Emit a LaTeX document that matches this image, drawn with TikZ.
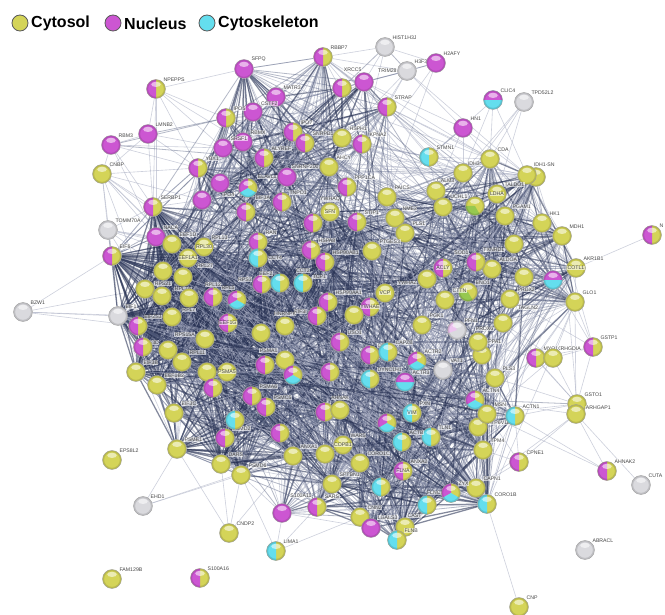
\documentclass[tikz,border=0pt]{standalone}
\usepackage{fontspec}
\setmainfont{Liberation Sans}
\usetikzlibrary{backgrounds}
\definecolor{cyel}{RGB}{212,212,88}
\definecolor{cmag}{RGB}{204,86,210}
\definecolor{ccya}{RGB}{100,222,238}
\definecolor{cgry}{RGB}{218,218,222}
\definecolor{cgrn}{RGB}{150,200,80}
\definecolor{edD}{RGB}{40,50,84}
\definecolor{edM}{RGB}{90,100,132}
\definecolor{edL}{RGB}{165,170,192}
\newcommand\pphl{\fill[white,opacity=.55] ([yshift=4.6pt]path picture bounding box.center) ellipse [x radius=4.8pt,y radius=2.6pt];\draw[black,opacity=.12,line width=1.6pt] (path picture bounding box.center) circle [radius=8.7pt];}
\newcommand\ppsect[3]{\fill[#1] (path picture bounding box.center) -- ++(#2:11pt) arc[start angle=#2,end angle=#3,radius=11pt] -- cycle;}
\tikzset{
 ball/.style={circle,minimum size=19pt,inner sep=0pt,draw=black!40,line width=.35pt},
 tY/.style={ball,fill=cyel,path picture={\pphl}},
 tM/.style={ball,fill=cmag,path picture={\pphl}},
 tC/.style={ball,fill=ccya,path picture={\pphl}},
 tG/.style={ball,fill=cgry,path picture={\pphl}},
 tMY/.style={ball,fill=cyel,path picture={\ppsect{cmag}{90}{270}\pphl}},
 tCY/.style={ball,fill=cyel,path picture={\ppsect{ccya}{90}{270}\pphl}},
 tMC/.style={ball,fill=ccya,path picture={\ppsect{cmag}{0}{180}\pphl}},
 tMCY/.style={ball,fill=cyel,path picture={\ppsect{cmag}{90}{210}\ppsect{ccya}{210}{330}\pphl}},
 tYG/.style={ball,fill=cyel,path picture={\ppsect{cgrn}{180}{300}\pphl}},
 tGM/.style={ball,fill=cgry,path picture={\ppsect{cmag!35}{120}{200}\pphl}},
 lbl/.style={font=\fontsize{5.2}{5.2}\selectfont,text=black!72,fill=white,fill opacity=.6,text opacity=1,inner sep=.5pt},
 lb/.style={label={[lbl]45:#1}},
 lpos/.style 2 args={label={[lbl]#1:#2}},
 eD/.style={draw=edD,line width=1.25pt,opacity=.58},
 eM/.style={draw=edM,line width=.8pt,opacity=.45},
 eL/.style={draw=edL,line width=.6pt,opacity=.55},
 legc/.style={circle,minimum size=16pt,inner sep=0pt,draw=black!65,line width=.8pt},
 legt/.style={anchor=west,inner sep=0pt,font=\fontsize{16}{17}\selectfont\bfseries}
}
\newcommand\ppclique[4]{%
 \foreach \a [count=\i] in #1 {%
  \foreach \b [count=\j] in #1 {%
   \ifnum\j>\i\relax
    \pgfmathtruncatemacro\ppr{mod(mod(\i*\i,97)*17+mod(\j*\j,97)*23+mod(\i*\j,97)*31+\i*13+\j*7,97)}%
    \ifnum\ppr<#2\relax \draw[eD] (\a) -- (\b);%
    \else\ifnum\ppr<#3\relax \draw[eM] (\a) -- (\b);%
    \else\ifnum\ppr<#4\relax \draw[eL] (\a) -- (\b);%
    \fi\fi\fi
   \fi}}}
\newcommand\ppmesh[5]{%
 \foreach \a [count=\i] in #1 {%
  \foreach \b [count=\j] in #2 {%
    \pgfmathtruncatemacro\ppr{mod(mod(\i*\i,97)*19+mod(\j*\j,97)*29+mod(\i*\j,97)*37+\i*11+\j*5+3,97)}%
    \ifnum\ppr<#3\relax \draw[eD] (\a) -- (\b);%
    \else\ifnum\ppr<#4\relax \draw[eM] (\a) -- (\b);%
    \else\ifnum\ppr<#5\relax \draw[eL] (\a) -- (\b);%
    \fi\fi\fi}}}
\def\GN{sfpq,matr3,cstf2,ipo5,rbmx,srsf1,ipo7,snrpd1,alyref,ybx1,elavl1,snrnp200,tnpo1,ipo4,eif3a,hsph1,kpna2,xrcc5,xrcc6,ppp1ca,n202,eif4a,n313,rbbp7,strap}
\def\GT{serbp1,naca,eef1d,rpl13,eef1a1,rps21,n183,n145,n162,eif6,n138,rpl7,rpl12,rpl5,rps3,eef2,eif2s,rps15a,n168,rpl11,n143,n136,eef1b,eef1g,n261,hnrnpk,n207,n227,eif1}
\def\GP{psme1,eif3c,dars,psmd6,psmd2,n235,psmc5,psma6,n213,n265,n293,psma1,n330,n280b,n325c,anxa1,n325b}
\def\GH{ran,cct4,cct,n311,n325,sfn,stip1,ptges3,vcp,ywhae,n354,uso1,n328,eif3i,n427}
\def\GG{cda,idh1,sn,calm3,n436,paics,nme2,pls1,n443,uchl1,ldha,pgam1,hk1,mdh1,txnrd1,aldoa,sod1,acly,eno1,cttn,prdx2,glo1,n422,pfn1,prdx6,ppa1,cotl1,n524,n553}
\def\GC{cse1la,cse1lb,capzb,vat1,pls3,actr3,dync,actn4,msn,atp6,actn1,tpm4,capn1,coro1b,flnc,flnb,lgals3,cast,cnn2,n371,flna,sptbn1,n381,copb1,coro1c,vim,n387,tln1,actb,ahnak,s100a11,n282,n482}
\begin{document}
\begin{tikzpicture}[x=1pt,y=-1pt]
\useasboundingbox (0,0) rectangle (665,615);
% legend
\node[legc,fill=cyel] (lg1) at (20,23) {};
\node[legt] (lg1t) at (31,23.5) {Cytosol};
\node[legc,fill=cmag] (lg2) at (113,23) {};
\node[legt] (lg2t) at (124,23.5) {Nucleus};
\node[legc,fill=ccya] (lg3) at (207,23) {};
\node[legt] (lg3t) at (218,23.5) {Cytoskeleton};
% nuclear
\node[tM,lb=SFPQ] (sfpq) at (244,69) {};
\node[tMY,lb=NPEPPS] (npepps) at (156,89) {};
\node[tM,lb=LMNB2] (lmnb2) at (148,134) {};
\node[tM,lb=RBM3] (rbm3) at (111,145) {};
\node[tY,lb=CNBP] (cnbp) at (102,174) {};
\node[tM,lb=MATR3] (matr3) at (276,97) {};
\node[tM,lpos={40}{CSTF2}] (cstf2) at (253,112) {};
\node[tMY,lb=IPO5] (ipo5) at (226,118) {};
\node[tM,lb=RBMX] (rbmx) at (243,142) {};
\node[tM,lb=SRSF1] (srsf1) at (223,148) {};
\node[tMY,lb=IPO7] (ipo7) at (293,132) {};
\node[tMY,lb=SNRPD1] (snrpd1) at (305,143) {};
\node[tMY,lb=ALYREF] (alyref) at (264,158) {};
\node[tMY,lb=YBX1] (ybx1) at (198,168) {};
\node[tM,lpos={180}{ELAVL1}] (elavl1) at (287,177) {};
\node[tY,lpos={180}{SNRNP200},lb=AHCY] (snrnp200) at (329,167) {};
\node[tMY,lb=TNPO1] (tnpo1) at (282,202) {};
\node[tM,lpos={-80}{IPO4}] (ipo4) at (220,183) {};
\node[tMCY,lpos={-45}{EIF3A}] (eif3a) at (248,188) {};
\node[tMY,lb=RBBP7] (rbbp7) at (323,57) {};
\node[tG,lb=HIST1H3J] (hist) at (385,47) {};
\node[tG,lb=H3F3B,lpos={180}{TRIM28}] (h3f3b) at (407,71) {};
\node[tM,lb=H2AFY] (h2afy) at (436,63) {};
\node[tMY] (xrcc6) at (342,88) {};
\node[tM,lpos={100}{XRCC5}] (xrcc5) at (364,82) {};
\node[tMY,lb=STRAP] (strap) at (387,107) {};
\node[tMC,lb=CLIC4] (clic4) at (493,100) {};
\node[tG,lb=TPD52L2] (tpd) at (524,102) {};
\node[tM,lb=HN1] (hn1) at (463,128) {};
\node[tY,lb=HSPH1] (hsph1) at (342,138) {};
\node[tMY,lb=KPNA2] (kpna2) at (362,144) {};
\node[tCY,lb=STMN1] (stmn1) at (429,157) {};
\node[tMY,lb=PPP1CA] (ppp1ca) at (347,187) {};
\node[tM] (n202) at (202,200) {};
\node[tMY] (eif4a) at (246,212) {};
\node[tMY] (n313) at (313,223) {};
\node[tY,lpos={center}{SFN},lpos={90}{YWHAQ}] (sfn) at (330,212) {};
% glycolysis
\node[tY,lb=CDA,lpos={190}{IDH3}] (cda) at (490,159) {};
\node[tY] (sn) at (536,177) {};
\node[tY,lpos={50}{IDH1-SN}] (idh1) at (527,175) {};
\node[tY,lpos={215}{CALM3}] (calm3) at (463,173) {};
\node[tY] (n436) at (436,191) {};
\node[tY,lb=PAICS] (paics) at (387,197) {};
\node[tY,lb=NME2] (nme2) at (395,218) {};
\node[tY,lb=PLS1] (pls1) at (405,233) {};
\node[tY] (n443) at (443,207) {};
\node[tYG,lpos={135}{UCHL1}] (uchl1) at (475,206) {};
\node[tY,lpos={center}{LDHA},lb=TALDO1] (ldha) at (497,194) {};
\node[tY,lb=PGAM1] (pgam1) at (505,216) {};
\node[tY,lb=HK1] (hk1) at (542,223) {};
\node[tY,lb=MDH1] (mdh1) at (562,236) {};
\node[tY,lpos={200}{TXNRD1}] (txnrd1) at (514,244) {};
\node[tMY,lb=N] (n652) at (652,235) {};
\node[tY,lpos={center}{COTL1},lb=AKR1B1] (cotl1) at (576,268) {};
\node[tY] (n524) at (524,277) {};
\node[tMC] (n553) at (553,280) {};
\node[tY,lb=ALDOA] (aldoa) at (492,269) {};
\node[tMY,lpos={135}{SOD1}] (sod1) at (476,262) {};
\node[tMY,lpos={center}{ACLY}] (acly) at (443,268) {};
\node[tYG,lb=ENO1] (eno1) at (468,292) {};
\node[tY,lb=CTTN] (cttn) at (445,300) {};
\node[tY,lb=PRDX2,lpos={-40}{TAGLN2}] (prdx2) at (510,299) {};
\node[tY,lb=GLO1] (glo1) at (575,302) {};
\node[tY,lb=PGK1] (n422) at (422,325) {};
\node[tGM,lb=PFN1] (pfn1) at (457,330) {};
\node[tY,lpos={200}{PRDX6}] (prdx6) at (503,323) {};
\node[tY] (n482) at (482,355) {};
\node[tY,lpos={0}{PPA1}] (ppa1) at (478,342) {};
\node[tMY,lb=MYO1C] (myo1c) at (536,358) {};
\node[tY,lb=RHGDIA] (arhgdia) at (553,358) {};
\node[tMY,lb=GSTP1] (gstp1) at (593,347) {};
% chaperones
\node[tMY,lb=RAN] (ran) at (258,242) {};
\node[tCY,lpos={0}{CCT4}] (cct4) at (258,258) {};
\node[tCY,lpos={90}{CCT2},lpos={20}{TCP1}] (cct) at (303,283) {};
\node[tMY,lb=HSPA8] (n311) at (311,250) {};
\node[tMY,lb=HSP90AB1] (n325) at (325,262) {};
\node[tMY,lb=STIP1] (stip1) at (357,222) {};
\node[tY,lb=PTGES3] (ptges3) at (372,251) {};
\node[tY,lpos={center}{VCP}] (vcp) at (385,293) {};
\node[tMY,lpos={center}{YWHAE}] (ywhae) at (370,307) {};
\node[tY] (n354) at (354,315) {};
\node[tMY,lb=USO1] (uso1) at (340,342) {};
\node[tMY,lb=HSP90AA1] (n328) at (328,302) {};
\node[tMY,lpos={170}{EIF3I}] (eif3i) at (317,316) {};
\node[tY,lpos={190}{YWHAZ}] (n427) at (427,279) {};
% translation
\node[tMY,lb=SERBP1] (serbp1) at (153,207) {};
\node[tG,lb=TOMM70A] (tomm70a) at (108,230) {};
\node[tMY,lb=EIF6] (eif6) at (112,256) {};
\node[tM,lb=NACA] (naca) at (156,237) {};
\node[tY,lb=EEF1D] (eef1d) at (172,244) {};
\node[tY,lb=RPL13,lpos={center}{RPL30}] (rpl13) at (204,247) {};
\node[tY,lpos={center}{EEF1A1},lpos={-30}{RPL27}] (eef1a1) at (188,258) {};
\node[tY,lpos={-90}{RPS21}] (rps21) at (163,271) {};
\node[tY,lpos={-90}{RPL7A}] (n183) at (183,277) {};
\node[tY] (n145) at (145,289) {};
\node[tY] (n162) at (162,296) {};
\node[tG,lb=BZW1] (bzw1) at (23,312) {};
\node[tG,lb=EIF1] (eif1) at (118,316) {};
\node[tMY] (n138) at (138,326) {};
\node[tY,lpos={-90}{RPL7}] (rpl7) at (189,298) {};
\node[tMY,lpos={90}{RPL12}] (rpl12) at (213,297) {};
\node[tMCY,lpos={100}{RPL5}] (rpl5) at (237,300) {};
\node[tMY,lpos={170}{RPS3}] (rps3) at (262,284) {};
\node[tCY,lpos={135}{EEF2}] (eef2) at (280,283) {};
\node[tY,lpos={180}{EIF2S3}] (eif2s) at (172,317) {};
\node[tY,lpos={170}{RPS15A}] (rps15a) at (205,339) {};
\node[tY,lpos={150}{EIF3D}] (n168) at (168,350) {};
\node[tY,lb=RPL11] (rpl11) at (182,362) {};
\node[tMY] (n143) at (143,347) {};
\node[tY,lb=EIF3B] (n136) at (136,372) {};
\node[tY,lb=EEF1B2] (eef1b) at (157,385) {};
\node[tMY,lpos={center}{EEF1G}] (eef1g) at (228,323) {};
\node[tY] (n261) at (261,333) {};
\node[tY,lpos={90}{HNRNPK}] (hnrnpk) at (285,326) {};
\node[tY] (n207) at (207,372) {};
\node[tY,lpos={center}{PSMA5}] (n227) at (227,372) {};
% proteasome
\node[tMY] (n213) at (213,388) {};
\node[tY,lpos={135}{PSMA1}] (psma1) at (285,360) {};
\node[tMY] (n265) at (265,365) {};
\node[tMCY] (n293) at (293,375) {};
\node[tMY] (n330) at (330,372) {};
\node[tY,lb=PSME1] (psme1) at (177,449) {};
\node[tY,lb=EIF3C] (eif3c) at (174,413) {};
\node[tY,lb=DARS] (dars) at (221,464) {};
\node[tY,lb=PSMD6] (psmd6) at (241,475) {};
\node[tMY,lb=PSMD2] (psmd2) at (225,438) {};
\node[tCY] (n235) at (235,420) {};
\node[tMY,lb=PSMC5] (psmc5) at (266,407) {};
\node[tMY,lb=PSMA6] (psma6) at (252,396) {};
\node[tY,lb=ANXA1] (anxa1) at (293,456) {};
\node[tY] (n325b) at (325,454) {};
\node[tMY] (n280b) at (280,433) {};
\node[tMY] (n325c) at (325,412) {};
\node[tY,lb=EPS8L2] (eps8l2) at (112,460) {};
\node[tG,lb=EHD1] (ehd1) at (143,506) {};
\node[tY,lb=FAM129B] (fam129b) at (112,579) {};
\node[tMY,lb=S100A16] (s100a16) at (200,578) {};
\node[tY,lb=CNDP2] (cndp2) at (229,533) {};
\node[tCY,lb=LIMA1] (lima1) at (276,551) {};
\node[tM] (n282) at (282,513) {};
\node[tMY,lpos={120}{S100A11}] (s100a11) at (317,507) {};
% cytoskeleton
\node[tMY,lb=CSE1L] (cse1la) at (370,355) {};
\node[tCY,lb=CAPZB] (cse1lb) at (388,352) {};
\node[tMCY,lb=ACTR2] (capzb) at (417,361) {};
\node[tG,lb=VAT1] (vat1) at (443,370) {};
\node[tY,lb=PLS3] (pls3) at (495,378) {};
\node[tCY,lb=DYNC1H1] (dync) at (370,379) {};
\node[tMC,lb=ACTR3] (actr3) at (405,382) {};
\node[tMCY,lb=ACTN4] (actn4) at (475,400) {};
\node[tY,lpos={10}{ATP6V1B2}] (atp6) at (478,427) {};
\node[tY,lb=MSN] (msn) at (487,414) {};
\node[tCY,lb=ACTN1] (actn1) at (515,416) {};
\node[tY,lb=GSTO1] (gsto1) at (577,404) {};
\node[tY,lpos={20}{ARHGAP1}] (arhgap1) at (576,414) {};
\node[tY,lb=TPM4] (tpm4) at (483,450) {};
\node[tMY,lb=CPNE1] (cpne1) at (519,462) {};
\node[tMY,lb=AHNAK2] (ahnak2) at (607,471) {};
\node[tG,lb=CUTA] (cuta) at (641,485) {};
\node[tY,lb=CAPN1] (capn1) at (476,488) {};
\node[tCY,lb=CORO1B] (coro1b) at (487,504) {};
\node[tMCY,lb=ZYX,lpos={180}{FLNC}] (flnc) at (451,493) {};
\node[tY,lpos={135}{LGALS3}] (lgals3) at (405,527) {};
\node[tCY,lb=FLNB] (flnb) at (397,540) {};
\node[tCY,lpos={-120}{CAST}] (cast) at (427,505) {};
\node[tY,lb=CNN2] (cnn2) at (360,517) {};
\node[tM] (n371) at (371,528) {};
\node[tMY,lb=ANXA2,lpos={center}{FLNA}] (flna) at (403,471) {};
\node[tY,lb=SPTBN1,lpos={-90}{SARS}] (sptbn1) at (332,484) {};
\node[tCY] (n381) at (381,487) {};
\node[tY,lb=WARS,lpos={center}{COPB1}] (copb1) at (343,445) {};
\node[tY,lb=CORO1C] (coro1c) at (360,463) {};
\node[tCY,lpos={center}{VIM},lb=PXN] (vim) at (412,413) {};
\node[tMCY] (n387) at (387,423) {};
\node[tCY,lb=TLN1] (tln1) at (431,437) {};
\node[tCY,lb=ACTB] (actb) at (402,442) {};
\node[tY,lpos={90}{AHNAK}] (ahnak) at (340,410) {};
\node[tY,lb=CNP] (cnp) at (519,607) {};
\node[tG,lb=ABRACL] (abracl) at (585,550) {};
% edges
\begin{scope}[on background layer]
\fill[white] (0,0) rectangle (665,615);
\foreach \a/\b in {npepps/ipo5,npepps/srsf1,npepps/ybx1,npepps/serbp1,npepps/lmnb2,npepps/sfpq,npepps/rbmx,npepps/naca,
 lmnb2/srsf1,lmnb2/ybx1,lmnb2/serbp1,lmnb2/cnbp,rbm3/srsf1,rbm3/ybx1,rbm3/cnbp,rbm3/eef1a1,rbm3/lmnb2,rbm3/naca,
 cnbp/serbp1,cnbp/naca,cnbp/eif6,cnbp/tomm70a,cnbp/eef1d,cnbp/ybx1,cnbp/n145,cnbp/eef1a1,cnbp/rpl13,cnbp/n202,
 tomm70a/serbp1,tomm70a/naca,tomm70a/eef1d,tomm70a/eef1a1,tomm70a/rps21,tomm70a/n145,tomm70a/eif6,tomm70a/rpl13,
 bzw1/eif1,bzw1/eif6,bzw1/n145,bzw1/n138,bzw1/eif2s,
 rbbp7/matr3,rbbp7/hist,rbbp7/sfpq,rbbp7/ipo7,rbbp7/snrpd1,rbbp7/hsph1,rbbp7/h3f3b,
 hist/xrcc5,hist/kpna2,hist/h2afy,h3f3b/strap,h3f3b/idh1,h3f3b/hsph1,h3f3b/kpna2,h3f3b/xrcc6,
 h2afy/xrcc5,h2afy/paics,h2afy/ppp1ca,strap/stmn1,strap/calm3,strap/idh1,strap/cda,strap/paics,
 hn1/xrcc5,hn1/h3f3b,hn1/cda,hn1/idh1,hn1/calm3,hn1/n436,clic4/stmn1,clic4/cda,clic4/calm3,clic4/idh1,
 tpd/calm3,tpd/cda,tpd/ldha,tpd/n443,stmn1/kpna2,stmn1/calm3,stmn1/hsph1,stmn1/cda,stmn1/paics,stmn1/n436,
 n652/cotl1,gstp1/arhgdia,gstp1/glo1,gstp1/gsto1,gstp1/prdx2,gstp1/myo1c,gstp1/mdh1,gstp1/n553,
 glo1/mdh1,glo1/hk1,glo1/arhgap1,glo1/arhgdia,glo1/myo1c,
 gsto1/arhgdia,gsto1/myo1c,gsto1/actn1,gsto1/msn,gsto1/prdx6,gsto1/pls3,arhgap1/capn1,arhgap1/ahnak2,arhgap1/cuta,
 arhgap1/cpne1,arhgap1/actn4,gsto1/mdh1,ahnak2/actn1,ahnak2/msn,cpne1/capn1,cpne1/tpm4,cpne1/actn1,cpne1/msn,
 cnp/coro1b,coro1b/capn1,coro1b/tpm4,coro1b/actn1,ehd1/psme1,ehd1/anxa1,ehd1/psmd6,
 cndp2/dars,cndp2/psmd6,cndp2/anxa1,cndp2/psme1,lima1/psmd6,lima1/s100a11,lima1/anxa1,lima1/cnn2,
 s100a11/anxa1,s100a11/n282,s100a11/lgals3,n282/anxa1,n282/n325b,n282/psmd6,
 myo1c/ppa1,arhgdia/prdx6,arhgdia/msn,myo1c/actn4,mdh1/n553,mdh1/cotl1}
 {\draw[eL] (\a) -- (\b);}
\foreach \a/\b in {lmnb2/ipo5,rbm3/ipo5,rbm3/alyref,sfpq/matr3,sfpq/cstf2,sfpq/ipo5,sfpq/srsf1,hist/xrcc6,hist/h3f3b,
 h3f3b/h2afy,h3f3b/xrcc5,strap/kpna2,hn1/stmn1,eif6/naca,eif6/eef1d,eif6/rps21,eif6/n145,eif6/n162,eif6/eef1a1,
 eif6/eif2s,eif6/n138,eif6/n183,eif6/serbp1,eif1/n145,eif1/n138,eif1/n162,eif1/rps21,eif1/eif2s,eif1/n143,
 eif1/tomm70a,psme1/eif3c,psme1/eef1b,gsto1/actn4,glo1/prdx2,myo1c/arhgdia}
 {\draw[eM] (\a) -- (\b);}
\ppclique{\GT}{55}{78}{92}
\ppclique{\GP}{55}{78}{90}
\ppclique{\GN}{16}{36}{55}
\ppclique{\GH}{32}{56}{75}
\ppclique{\GG}{15}{32}{50}
\ppclique{\GC}{20}{36}{52}
\ppmesh{\GT}{\GH}{16}{32}{46}
\ppmesh{\GT}{\GP}{20}{38}{52}
\ppmesh{\GN}{\GT}{3}{10}{22}
\ppmesh{\GN}{\GH}{6}{16}{30}
\ppmesh{\GH}{\GG}{7}{17}{30}
\ppmesh{\GH}{\GC}{9}{20}{32}
\ppmesh{\GH}{\GP}{10}{22}{34}
\ppmesh{\GP}{\GC}{4}{11}{20}
\ppmesh{\GG}{\GC}{2}{8}{18}
\ppmesh{\GT}{\GC}{2}{6}{12}
\ppmesh{\GN}{\GG}{0}{3}{10}
\end{scope}
\end{tikzpicture}
\end{document}
